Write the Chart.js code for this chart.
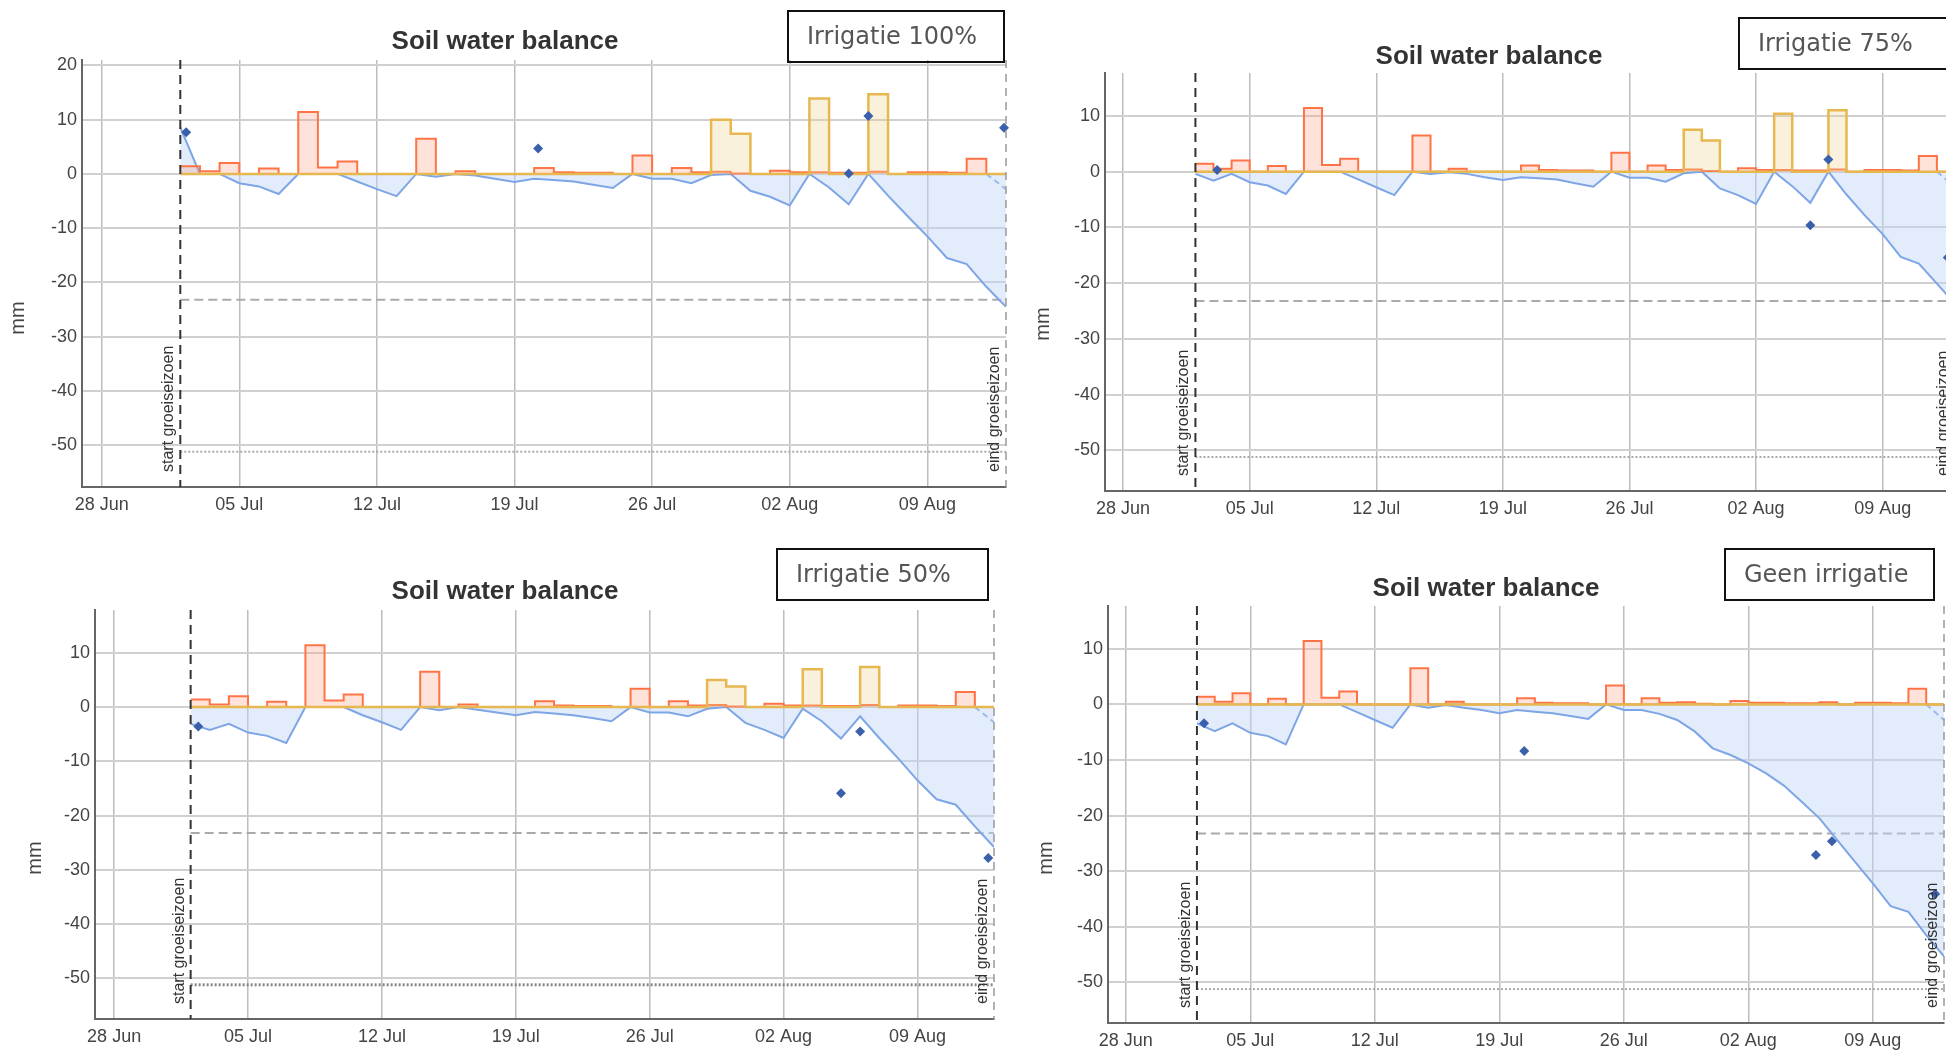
<!DOCTYPE html>
<html>
<head>
<meta charset="utf-8">
<script src="https://cdn.jsdelivr.net/npm/chart.js@4"></script>
<style>
  body { margin: 0; width: 1946px; height: 1050px; overflow: hidden; background: #fff; position: relative;
         font-family: 'Liberation Sans', Arial, sans-serif; }
  canvas { position: absolute; }
  .title { position: absolute; width: 600px; text-align: center; font-weight: bold; font-size: 26px;
           line-height: 30px; color: #333; }
  .box { position: absolute; border: 2px solid #111; box-sizing: border-box; font-family: 'DejaVu Sans', sans-serif;
         font-size: 24px; color: #555; padding-left: 18px; white-space: nowrap; }
  .mm { position: absolute; width: 60px; height: 24px; line-height: 24px; text-align: center; font-size: 20px;
        color: #444; transform: rotate(-90deg); }
</style>
</head>
<body>
<script>
// x axis: day number counted from 28 Jun
const tickDays = [0, 7, 14, 21, 28, 35, 42];
const tickLabels = ['28 Jun', '05 Jul', '12 Jul', '19 Jul', '26 Jul', '02 Aug', '09 Aug'];
const seasonStart = 4;   // 02 Jul
const seasonEnd = 46;    // 13 Aug
const critLevel = -23.2;
const wiltLevel = -51.2;

const dayNr = [4, 5, 6, 7, 8, 9, 10, 11, 12, 13, 14, 15, 16, 17, 18, 19, 20, 21, 22, 23, 24, 25,
               26, 27, 28, 29, 30, 31, 32, 33, 34, 35, 36, 37, 38, 39, 40, 41, 42, 43, 44, 45, 46];

// neerslag (mm per dag), same in all four panels
const rain = [1.4, 0.5, 2.0, 0, 1.0, 0, 11.4, 1.2, 2.3, 0,
              0, 0, 6.5, 0, 0.5, 0, 0, 0, 1.1, 0.3,
              0.2, 0.2, 0, 3.4, 0, 1.1, 0.3, 0.4, 0.1, 0,
              0.6, 0.3, 0.3, 0.2, 0.2, 0.4, 0, 0.3, 0.3, 0.2,
              2.8, 0, 0];

// irrigatie per scenario
const irrig100 = [0, 0, 0, 0, 0, 0, 0, 0, 0, 0, 0, 0, 0, 0, 0, 0, 0, 0, 0, 0, 0, 0, 0, 0, 0, 0, 0,
                  10.0, 7.4, 0, 0, 0, 13.9, 0, 0, 14.7, 0, 0, 0, 0, 0, 0, 0];
const irrig75 = [0, 0, 0, 0, 0, 0, 0, 0, 0, 0, 0, 0, 0, 0, 0, 0, 0, 0, 0, 0, 0, 0, 0, 0, 0, 0, 0,
                 7.5, 5.6, 0, 0, 0, 10.4, 0, 0, 11.0, 0, 0, 0, 0, 0, 0, 0];
const irrig50 = [0, 0, 0, 0, 0, 0, 0, 0, 0, 0, 0, 0, 0, 0, 0, 0, 0, 0, 0, 0, 0, 0, 0, 0, 0, 0, 0,
                 5.0, 3.8, 0, 0, 0, 7.0, 0, 0, 7.4, 0, 0, 0, 0, 0, 0, 0];
const irrig0 = [0, 0, 0, 0, 0, 0, 0, 0, 0, 0, 0, 0, 0, 0, 0, 0, 0, 0, 0, 0, 0, 0, 0, 0, 0, 0, 0,
                0, 0, 0, 0, 0, 0, 0, 0, 0, 0, 0, 0, 0, 0, 0, 0];

// bodemwater tekort (mm)
const deficit100 = [8.6, 0, 0, -1.7, -2.3, -3.7, 0, 0, 0, -1.4,
                    -2.8, -4.1, 0, -0.5, 0, -0.3, -0.9, -1.5, -0.9, -1.1,
                    -1.4, -2.0, -2.6, 0, -0.9, -0.9, -1.7, -0.2, 0, -3.1,
                    -4.2, -5.8, 0, -2.5, -5.6, 0, -4.0, -7.8, -11.5, -15.5,
                    -16.6, -20.8, -24.5];
const deficit75 = [-0.4, -1.6, -0.4, -1.9, -2.5, -4.0, 0, 0, 0, -1.4,
                   -2.8, -4.2, 0, -0.4, -0.1, -0.4, -1.0, -1.5, -1.0, -1.2,
                   -1.4, -2.1, -2.7, 0, -1.1, -1.1, -1.8, -0.3, 0, -3.0,
                   -4.2, -5.8, 0, -2.6, -5.6, 0, -4.1, -7.8, -11.2, -15.3,
                   -16.5, -20.1, -23.7];
const deficit50 = [-3.1, -4.2, -3.1, -4.7, -5.3, -6.6, 0, 0, 0, -1.5,
                   -2.8, -4.2, 0, -0.6, 0, -0.5, -1.0, -1.5, -0.9, -1.2,
                   -1.5, -2.0, -2.6, 0, -1.0, -1.0, -1.7, -0.3, 0, -2.9,
                   -4.2, -5.7, -0.3, -2.6, -5.8, -1.7, -5.7, -9.5, -13.5, -17.0,
                   -18.0, -22.0, -25.8];
const deficit0 = [-3.4, -4.8, -3.4, -5.1, -5.7, -7.2, 0, 0, 0, -1.4,
                  -2.8, -4.2, 0, -0.6, -0.1, -0.6, -1.0, -1.6, -1.0, -1.3,
                  -1.6, -2.1, -2.6, 0, -1.0, -1.0, -1.7, -2.8, -4.9, -7.9,
                  -9.1, -10.6, -12.4, -14.6, -17.5, -20.5, -24.4, -28.3, -32.2, -36.3,
                  -37.3, -41.5, -45.3];

// verwachting (dashed)
const forecastX = [45, 46];
const forecastY = [0, -2.8];

// metingen (diamonds)
const meas100X = [4.3, 22.2, 38.0, 39.0, 45.9];
const meas100Y = [7.7, 4.7, 0.1, 10.7, 8.5];
const meas75X = [5.2, 38.0, 39.0, 45.6];
const meas75Y = [0.3, -9.6, 2.2, -15.4];
const meas50X = [4.4, 38.0, 39.0, 45.7];
const meas50Y = [-3.6, -15.9, -4.5, -27.8];
const meas0X = [4.4, 22.4, 38.8, 39.7, 45.5];
const meas0Y = [-3.4, -8.4, -27.1, -24.6, -34.1];

const yTicksTop = [-50, -40, -30, -20, -10, 0, 10, 20];
const yTicks = [-50, -40, -30, -20, -10, 0, 10];

const panels = [
  { name: 'Irrigatie 100%', irrig: irrig100, deficit: deficit100, mx: meas100X, my: meas100Y,
    yMin: -57.7, yMax: 21, yt: yTicksTop, wilt: ['#aaa', 2],
    canvas: [0, 50, 1016, 477], xH: 40, title: [505, 40], box: [787, 10, 218, 53], mm: [17, 318] },
  { name: 'Irrigatie 75%', irrig: irrig75, deficit: deficit75, mx: meas75X, my: meas75Y,
    yMin: -57.3, yMax: 17.7, yt: yTicks, wilt: ['#aaa', 2],
    canvas: [1023, 63, 942, 468], xH: 40, title: [1489, 55], box: [1738, 17, 240, 53], mm: [1042, 324] },
  { name: 'Irrigatie 50%', irrig: irrig50, deficit: deficit50, mx: meas50X, my: meas50Y,
    yMin: -57.5, yMax: 17.9, yt: yTicks, wilt: ['#888', 3],
    canvas: [13, 600, 991, 450], xH: 31, title: [505, 590], box: [776, 548, 213, 53], mm: [34, 858] },
  { name: 'Geen irrigatie', irrig: irrig0, deficit: deficit0, mx: meas0X, my: meas0Y,
    yMin: -57.3, yMax: 17.7, yt: yTicks, wilt: ['#aaa', 2],
    canvas: [1026, 596, 928, 458], xH: 31, title: [1486, 587], box: [1724, 548, 211, 53], mm: [1045, 858] }
];

const fontFamily = "'Liberation Sans', Arial, sans-serif";

function pts(xs, ys) {
  return xs.map((x, i) => ({ x: x, y: ys[i] }));
}

// start / eind groeiseizoen lines with their rotated labels
const seasonMarks = {
  id: 'seasonMarks',
  afterDatasetsDraw(chart) {
    const { ctx, chartArea, scales } = chart;
    const marks = [
      { day: seasonStart, text: 'start groeiseizoen', color: '#333', dash: [9, 6], width: 2 },
      { day: seasonEnd, text: 'eind groeiseizoen', color: '#999', dash: [8, 6], width: 1.5 }
    ];
    marks.forEach(m => {
      const px = scales.x.getPixelForValue(m.day);
      ctx.save();
      ctx.strokeStyle = m.color;
      ctx.lineWidth = m.width;
      ctx.setLineDash(m.dash);
      ctx.beginPath();
      ctx.moveTo(px, chartArea.top);
      ctx.lineTo(px, chartArea.bottom);
      ctx.stroke();
      ctx.setLineDash([]);
      ctx.translate(px - 7, chartArea.bottom - 15);
      ctx.rotate(-Math.PI / 2);
      ctx.font = '16px ' + fontFamily;
      ctx.fillStyle = '#333';
      ctx.textAlign = 'left';
      ctx.textBaseline = 'alphabetic';
      ctx.fillText(m.text, 0, 0);
      ctx.restore();
    });
  }
};

function addDiv(cls, text, css) {
  const d = document.createElement('div');
  d.className = cls;
  d.textContent = text;
  Object.assign(d.style, css);
  document.body.appendChild(d);
}

panels.forEach(p => {
  const [cl, ct, cw, ch] = p.canvas;
  const canvas = document.createElement('canvas');
  canvas.width = cw;
  canvas.height = ch;
  canvas.style.left = cl + 'px';
  canvas.style.top = ct + 'px';
  canvas.style.width = cw + 'px';
  canvas.style.height = ch + 'px';
  document.body.appendChild(canvas);

  addDiv('title', 'Soil water balance', { left: (p.title[0] - 300) + 'px', top: (p.title[1] - 15) + 'px' });
  addDiv('box', p.name, { left: p.box[0] + 'px', top: p.box[1] + 'px', width: p.box[2] + 'px',
                          height: p.box[3] + 'px', lineHeight: (p.box[3] - 4) + 'px' });
  addDiv('mm', 'mm', { left: (p.mm[0] - 30) + 'px', top: (p.mm[1] - 12) + 'px' });

  new Chart(canvas, {
    type: 'line',
    data: {
      datasets: [
        {
          label: 'Metingen',
          data: pts(p.mx, p.my),
          showLine: false,
          pointStyle: 'rectRot',
          pointRadius: 5,
          pointBackgroundColor: '#3a60ab',
          pointBorderWidth: 0,
          clip: false,
          order: 0
        },
        {
          label: 'Irrigatie',
          data: pts(dayNr, p.irrig),
          stepped: true,
          borderColor: '#e6b84f',
          borderWidth: 2.5,
          backgroundColor: 'rgba(236, 208, 140, 0.3)',
          fill: 'origin',
          pointRadius: 0,
          order: 1
        },
        {
          label: 'Neerslag',
          data: pts(dayNr, rain),
          stepped: true,
          borderColor: '#ff7447',
          borderWidth: 2,
          backgroundColor: 'rgba(255, 150, 120, 0.28)',
          fill: 'origin',
          pointRadius: 0,
          order: 2
        },
        {
          label: 'Bodemwater',
          data: pts(dayNr, p.deficit),
          borderColor: '#7ea5e6',
          borderWidth: 2,
          backgroundColor: 'rgba(190, 212, 247, 0.45)',
          fill: 'origin',
          pointRadius: 0,
          order: 3
        },
        {
          label: 'Verwachting',
          data: pts(forecastX, forecastY),
          borderColor: '#7ea5e6',
          borderWidth: 2,
          borderDash: [6, 4],
          fill: false,
          pointRadius: 0,
          order: 3
        },
        {
          label: 'Kritisch',
          data: pts([seasonStart, seasonEnd], [critLevel, critLevel]),
          borderColor: '#aaa',
          borderWidth: 2,
          borderDash: [9, 5],
          fill: false,
          pointRadius: 0,
          order: 4
        },
        {
          label: 'Verwelkingspunt',
          data: pts([seasonStart, seasonEnd], [wiltLevel, wiltLevel]),
          borderColor: p.wilt[0],
          borderWidth: p.wilt[1],
          borderDash: [2, 2],
          fill: false,
          pointRadius: 0,
          order: 4
        }
      ]
    },
    options: {
      responsive: false,
      animation: false,
      layout: { padding: { top: 10, right: 10, left: 0, bottom: 0 } },
      plugins: { legend: { display: false }, tooltip: { enabled: false } },
      scales: {
        x: {
          type: 'linear',
          min: -1,
          max: seasonEnd,
          afterBuildTicks: a => { a.ticks = tickDays.map(v => ({ value: v })); },
          ticks: {
            callback: v => tickLabels[tickDays.indexOf(v)],
            font: { size: 18, family: fontFamily },
            color: '#444',
            padding: 7,
            maxRotation: 0,
            autoSkip: false
          },
          grid: { color: '#bdbdbd', lineWidth: 1.5, drawTicks: false },
          border: { color: '#666', width: 2 },
          afterFit: s => { s.height = p.xH; s.paddingLeft = 0; s.paddingRight = 0; }
        },
        y: {
          min: p.yMin,
          max: p.yMax,
          afterBuildTicks: a => { a.ticks = p.yt.map(v => ({ value: v })); },
          ticks: { font: { size: 18, family: fontFamily }, color: '#444', padding: 5 },
          grid: { color: '#d0d0d0', lineWidth: 2, drawTicks: false },
          border: { color: '#666', width: 2 },
          afterFit: s => { s.width = 82; s.paddingTop = 0; s.paddingBottom = 0; }
        }
      }
    },
    plugins: [seasonMarks]
  });
});
</script>
</body>
</html>
